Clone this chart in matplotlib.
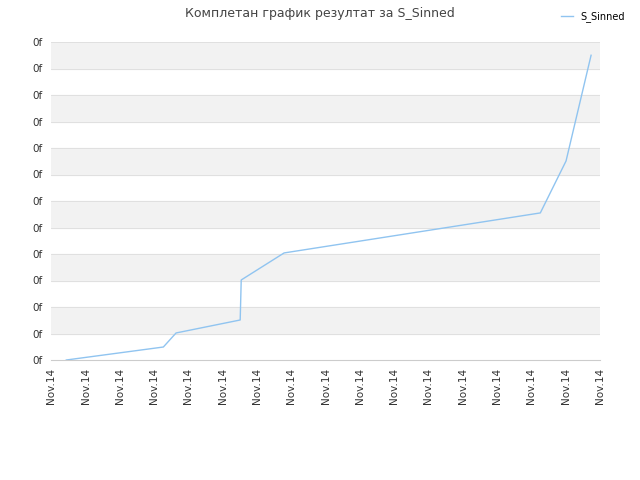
import matplotlib.pyplot as plt

# positions along time axis (tick units) and rank values
x_vals = [0.44, 3.27, 3.64, 5.51, 5.54, 6.79, 14.26, 15.01, 15.74]
y_vals = [0.0, 0.49, 1.02, 1.51, 3.02, 4.04, 5.55, 7.51, 11.5]
x_labels = ["Nov.14"] * 17
y_labels = ["0f"] * 13

fig = plt.figure(figsize=(6.4, 4.8), dpi=100)
ax = fig.add_axes([0.08, 0.25, 0.8575, 0.6625])

for i in range(12):
    if i % 2 == 1:
        ax.axhspan(i, i + 1, color='#f2f2f2', zorder=0)
    ax.axhline(i, color='#dddddd', lw=0.6, zorder=1)
ax.axhline(12, color='#dddddd', lw=0.6, zorder=1)

ax.plot(x_vals, y_vals, color='#90c4f0', lw=1, label='S_Sinned', zorder=3)

ax.set_xlim(0, 16)
ax.set_ylim(0, 12)
ax.set_xticks(range(17))
ax.set_xticklabels(x_labels, rotation=90, fontsize=7.5, color='#333333')
ax.set_yticks(range(13))
ax.set_yticklabels(y_labels, fontsize=7.5, color='#333333')
ax.tick_params(length=0, pad=6)
for s in ax.spines.values():
    s.set_visible(False)
ax.spines['bottom'].set_visible(True)
ax.spines['bottom'].set_color('#cccccc')

fig.suptitle('Комплетан график резултат за S_Sinned', x=0.5, y=0.985,
             fontsize=9, color='#444444')
fig.legend(loc='upper right', bbox_to_anchor=(0.99, 0.995), frameon=False,
           fontsize=7, handlelength=1.2)

fig.savefig('out.png', dpi=100)
